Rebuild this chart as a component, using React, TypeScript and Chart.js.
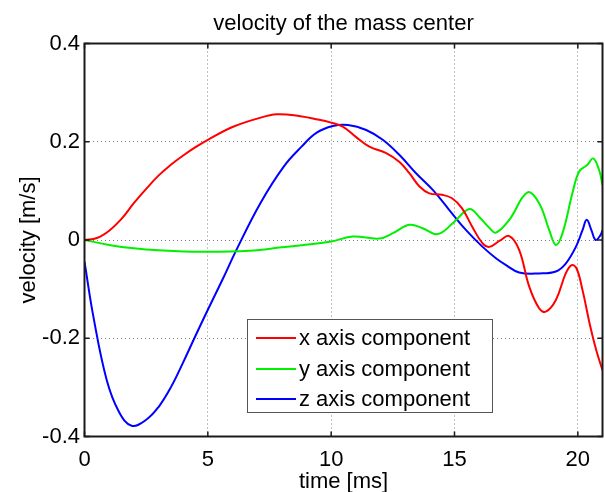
import React, { useEffect, useRef } from "react";
import { Chart, registerables } from "chart.js";

Chart.register(...registerables);

const TITLE = "velocity of the mass center";
const X_LABEL = "time [ms]";
const Y_LABEL = "velocity [m/s]";
const SERIES_LABELS = ["x axis component", "y axis component", "z axis component"];
const SERIES_COLORS = ["#ff0000", "#00f000", "#0000ff"];
const X_TICKS = [0, 5, 10, 15, 20];
const Y_TICKS = [-0.4, -0.2, 0, 0.2, 0.4];
const X_MIN = 0;
const X_MAX = 21;
const Y_MIN = -0.4;
const Y_MAX = 0.4;

// x axis component
const xCompTime = [0, 0.5, 1.0, 1.5, 2.0, 2.5, 3.0, 3.5, 4.0, 4.5, 5.0, 6.0, 7.0, 7.8, 8.75, 9.4, 10.0, 10.47, 11.0, 11.55, 12.23, 12.77, 13.17, 13.58, 13.98, 14.5, 14.9, 15.3, 15.74, 16.14, 16.41, 16.82, 17.22, 17.62, 18.03, 18.43, 18.7, 19.11, 19.51, 19.75, 19.95, 20.19, 20.5, 20.75, 21.0];
const xCompVel = [0, 0.004, 0.019, 0.043, 0.075, 0.104, 0.131, 0.153, 0.172, 0.189, 0.204, 0.23, 0.247, 0.256, 0.252, 0.246, 0.239, 0.231, 0.21, 0.19, 0.177, 0.159, 0.136, 0.109, 0.095, 0.092, 0.085, 0.065, 0.025, -0.007, -0.014, -0.002, 0.008, -0.02, -0.095, -0.139, -0.146, -0.122, -0.068, -0.051, -0.058, -0.102, -0.175, -0.225, -0.265];

// y axis component
const yCompTime = [0, 1.0, 2.0, 3.0, 4.7, 6.7, 8.0, 8.88, 10.0, 10.88, 11.96, 12.5, 13.17, 13.71, 14.32, 14.93, 15.6, 16.0, 16.41, 16.68, 17.22, 17.96, 18.43, 18.84, 19.11, 19.38, 19.78, 20.05, 20.39, 20.62, 20.86, 21.0];
const yCompVel = [0, -0.01, -0.017, -0.021, -0.024, -0.022, -0.015, -0.01, -0.003, 0.007, 0.003, 0.014, 0.031, 0.024, 0.012, 0.034, 0.063, 0.047, 0.025, 0.015, 0.041, 0.097, 0.075, 0.02, -0.01, 0.014, 0.095, 0.139, 0.153, 0.166, 0.143, 0.112];

// z axis component
const zCompTime = [0, 0.36, 0.9, 1.4, 1.91, 2.5, 3.0, 3.5, 4.0, 4.5, 5.0, 5.6, 6.16, 7.13, 8.07, 8.8, 9.4, 10.07, 10.68, 11.42, 12.09, 12.77, 13.44, 14.12, 14.79, 15.47, 16.14, 16.68, 17.09, 17.62, 18.43, 19.11, 19.51, 19.92, 20.19, 20.36, 20.55, 20.72, 20.92, 21.0];
const zCompVel = [-0.044, -0.156, -0.285, -0.35, -0.378, -0.366, -0.34, -0.3, -0.249, -0.195, -0.142, -0.08, -0.02, 0.075, 0.149, 0.19, 0.218, 0.232, 0.234, 0.224, 0.204, 0.173, 0.136, 0.102, 0.061, 0.02, -0.014, -0.037, -0.051, -0.066, -0.068, -0.064, -0.048, -0.014, 0.02, 0.041, 0.02, 0.0, 0.01, 0.02];

const SERIES_TIMES = [xCompTime, yCompTime, zCompTime];
const SERIES_VALUES = [xCompVel, yCompVel, zCompVel];

const FONT = '"Liberation Sans", Arial, Helvetica, sans-serif';
const FONT_SIZE = 22;

const framePlugin = {
  id: "matlabFrame",
  afterDatasetsDraw(chart: any) {
    const { ctx, chartArea: a, scales } = chart;
    const len = 5;
    ctx.save();
    ctx.strokeStyle = "#1a1a1a";
    ctx.lineWidth = 1.5;
    ctx.beginPath();
    for (const t of scales.x.ticks) {
      const px = scales.x.getPixelForValue(t.value);
      ctx.moveTo(px, a.bottom);
      ctx.lineTo(px, a.bottom - len);
      ctx.moveTo(px, a.top);
      ctx.lineTo(px, a.top + len);
    }
    for (const t of scales.y.ticks) {
      const py = scales.y.getPixelForValue(t.value);
      ctx.moveTo(a.left, py);
      ctx.lineTo(a.left + len, py);
      ctx.moveTo(a.right, py);
      ctx.lineTo(a.right - len, py);
    }
    ctx.stroke();
    ctx.lineWidth = 2;
    ctx.strokeRect(a.left, a.top, a.right - a.left, a.bottom - a.top);
    ctx.restore();
  },
};

export default function App() {
  const canvasRef = useRef<HTMLCanvasElement | null>(null);

  useEffect(() => {
    if (!canvasRef.current) return;
    const datasets = SERIES_LABELS.map((label, i) => ({
      label,
      data: SERIES_TIMES[i].map((t, j) => ({ x: t, y: SERIES_VALUES[i][j] })),
      borderColor: SERIES_COLORS[i],
      backgroundColor: SERIES_COLORS[i],
      borderWidth: 2,
      pointRadius: 0,
      fill: false,
      tension: 0.4,
    }));

    const chart = new Chart(canvasRef.current, {
      type: "line",
      data: { datasets },
      plugins: [framePlugin],
      options: {
        animation: false,
        responsive: false,
        devicePixelRatio: 1,
        layout: { padding: { left: 0, right: 2.5, top: 0, bottom: 0 } },
        plugins: {
          legend: { display: false },
          tooltip: { enabled: false },
          title: {
            display: true,
            text: TITLE,
            fullSize: false,
            color: "#000",
            font: { family: FONT, size: FONT_SIZE, weight: "normal", lineHeight: 1.2 },
            padding: { top: 10.5, bottom: 6.6 },
          },
        },
        scales: {
          x: {
            type: "linear",
            min: X_MIN,
            max: X_MAX,
            afterBuildTicks: (s: any) => {
              s.ticks = X_TICKS.map((v) => ({ value: v }));
            },
            afterFit: (s: any) => {
              s.height = 55.5;
            },
            ticks: {
              color: "#000",
              padding: 10,
              maxRotation: 0,
              font: { family: FONT, size: FONT_SIZE },
              callback: (v: any) => String(v),
            },
            grid: { color: "#808080", lineWidth: 1, drawTicks: false },
            border: { display: false, dash: [1, 3] },
            title: {
              display: true,
              text: X_LABEL,
              color: "#000",
              font: { family: FONT, size: FONT_SIZE, lineHeight: 1 },
              padding: { top: 0, bottom: -1 },
            },
          },
          y: {
            type: "linear",
            min: Y_MIN,
            max: Y_MAX,
            afterBuildTicks: (s: any) => {
              s.ticks = Y_TICKS.map((v) => ({ value: v }));
            },
            afterFit: (s: any) => {
              s.width = 84.5;
            },
            ticks: {
              color: "#000",
              padding: 4.5,
              font: { family: FONT, size: FONT_SIZE },
              callback: (v: any) => String(Number(Number(v).toFixed(1))),
            },
            grid: { color: "#808080", lineWidth: 1, drawTicks: false },
            border: { display: false, dash: [1, 3] },
            title: {
              display: true,
              text: Y_LABEL,
              color: "#000",
              font: { family: FONT, size: FONT_SIZE, lineHeight: 1 },
              padding: { top: 18, bottom: 0 },
            },
          },
        },
      },
    });
    return () => chart.destroy();
  }, []);

  return (
    <div style={{ position: "fixed", left: 0, top: 0, width: 605, height: 492, background: "#fff" }}>
      <canvas ref={canvasRef} width={605} height={492} style={{ width: 605, height: 492, display: "block" }} />
      <div
        style={{
          position: "absolute",
          left: 247,
          top: 319,
          width: 246,
          height: 94,
          boxSizing: "border-box",
          border: "1px solid #555",
          background: "#fff",
          fontFamily: FONT,
          fontSize: FONT_SIZE,
          color: "#000",
        }}
      >
        {SERIES_LABELS.map((label, i) => (
          <div
            key={label}
            style={{
              position: "absolute",
              left: 8,
              top: 3 + i * 30.5,
              height: 30,
              display: "flex",
              alignItems: "center",
              whiteSpace: "nowrap",
            }}
          >
            <span style={{ display: "inline-block", width: 40, height: 2, background: SERIES_COLORS[i], marginRight: 3 }} />
            <span>{label}</span>
          </div>
        ))}
      </div>
    </div>
  );
}
